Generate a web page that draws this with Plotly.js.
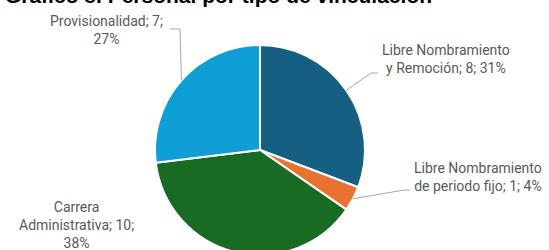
<!DOCTYPE html>
<html><head><meta charset="utf-8">
<script src="https://cdn.plot.ly/plotly-3.0.1.min.js"></script>
<style>
html,body{margin:0;padding:0;overflow:hidden;background:#fff;width:549px;height:250px;}
#chart{position:absolute;left:0;top:-20px;width:549px;height:320px;}
</style></head>
<body><div id="chart"></div>
<script>
const categories = ["Libre Nombramiento y Remoción", "Libre Nombramiento de periodo fijo", "Carrera Administrativa", "Provisionalidad"];
const values = [8, 1, 10, 7];
const colors = ["#156082", "#E97132", "#196B24", "#0F9ED5"];
const labelLines = [
  ["Libre Nombramiento", "y Remoción; {v}; {p}"],
  ["Libre Nombramiento", "de periodo fijo; {v}; {p}"],
  ["Carrera", "Administrativa; {v};", "{p}"],
  ["Provisionalidad; {v};", "{p}"]
];
const titleText = "Gráfico 8. Personal por tipo de vinculación";

const W = 549, H = 320, OFF = 20;
const px = x => x / W;
const py = y => 1 - (y + OFF) / H;

// pie geometry (page pixels)
const cx = 260, cy = 150, R = 105;
const total = values.reduce((a, b) => a + b, 0);

// label anchor positions (page pixels) and leader elbow points
const labelPos = [[446, 59], [478, 177], [76, 225], [106, 30]];
const elbows = [[[371, 73], [378, 73]], [[404, 190], [410, 190]], null, [[180, 29], [170, 29]]];

const annotations = [];
const shapes = [];
let cum = 0;
values.forEach((v, i) => {
  const mid = (cum + v / 2) / total * 2 * Math.PI;
  cum += v;
  const pct = Math.round(v / total * 100) + "%";
  const txt = labelLines[i].map(l => l.replace("{v}", v).replace("{p}", pct)).join("<br>");
  annotations.push({
    x: px(labelPos[i][0]), y: py(labelPos[i][1]), xref: "paper", yref: "paper",
    text: txt, showarrow: false, align: "center", xanchor: "center", yanchor: "middle",
    font: {family: "Roboto, sans-serif", size: 14, color: "#595959"}
  });
  if (elbows[i]) {
    const sx = cx + R * Math.sin(mid), sy = cy - R * Math.cos(mid);
    let d = `M${px(sx)},${py(sy)}`;
    elbows[i].forEach(p => { d += ` L${px(p[0])},${py(p[1])}`; });
    shapes.push({type: "path", xref: "paper", yref: "paper", path: d,
      line: {color: "#A6A6A6", width: 1}});
  }
});

const data = [{
  type: "pie", labels: categories, values: values, sort: false, direction: "clockwise",
  rotation: 0, textinfo: "none", hoverinfo: "label+value+percent",
  marker: {colors: colors, line: {color: "#ffffff", width: 2}},
  domain: {x: [px(cx - R), px(cx + R)], y: [py(cy + R), py(cy - R)]},
  showlegend: false
}];

const layout = {
  width: W, height: H, margin: {l: 0, r: 0, t: 0, b: 0},
  paper_bgcolor: "#ffffff", plot_bgcolor: "#ffffff",
  title: {text: "<b>" + titleText + "</b>", x: 0.009, xanchor: "left",
          y: 1 - 15.5 / H, yanchor: "middle", yref: "container",
          font: {family: "Liberation Sans, Arial, sans-serif", size: 21, color: "#000000"}},
  annotations: annotations, shapes: shapes
};
Plotly.newPlot("chart", data, layout, {staticPlot: true});
</script></body></html>
